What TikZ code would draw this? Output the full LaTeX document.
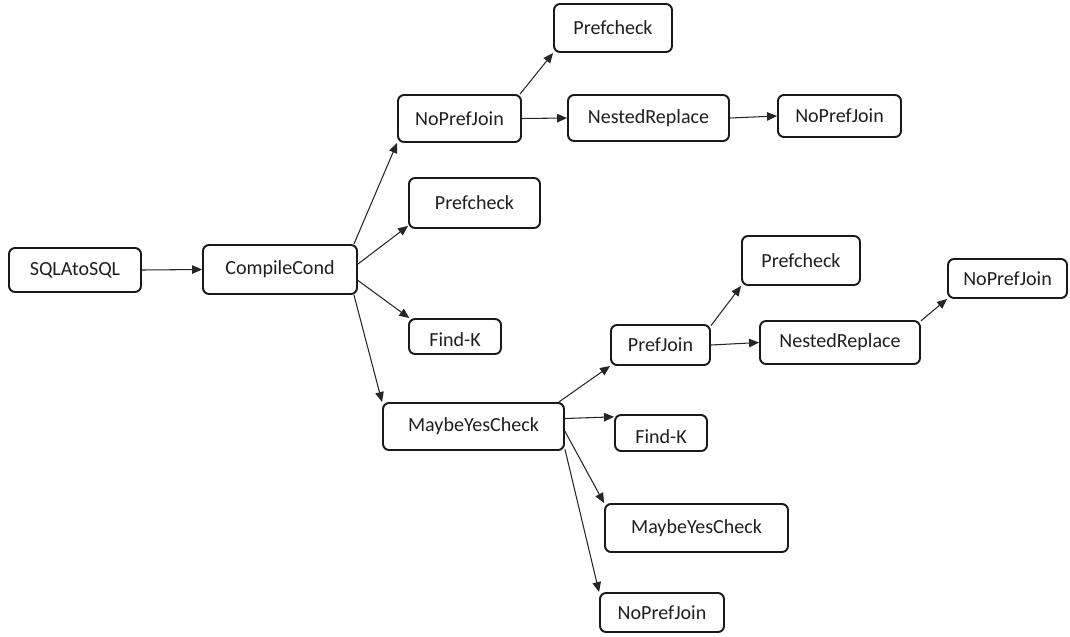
\documentclass[tikz,border=0pt]{standalone}
\usepackage{fontspec}
\setmainfont{Carlito}
\usetikzlibrary{arrows.meta}
\begin{document}
\begin{tikzpicture}[x=0.02cm, y=-0.02cm,
  box/.style={draw=black!90, line width=1.1pt, rounded corners=0.12cm,
    inner sep=0pt, fill=white, text=black!88,
    font=\fontsize{11.4}{13.7}\selectfont},
  lowtext/.style={text height=0.4cm, text depth=0pt},
  link/.style={draw=black!85, line width=0.6pt,
    -{Triangle[length=0.2cm, width=0.17cm]}}]
\useasboundingbox (0,0) rectangle (1070,636);

% first level
\node[box, minimum width=2.64cm, minimum height=0.88cm] (s2s) at (75,270) {SQLAtoSQL};
\node[box, minimum width=3.08cm, minimum height=0.98cm] (cc) at (280,269.5) {CompileCond};

% children of CompileCond
\node[box, minimum width=2.46cm, minimum height=0.94cm] (npjA) at (459.5,118.5) {NoPrefJoin};
\node[box, minimum width=2.62cm, minimum height=1.00cm] (pcB) at (474.5,203) {Prefcheck};
\node[box, lowtext, minimum width=1.84cm, minimum height=0.70cm] (fkA) at (455,336.5) {Find-K};
\node[box, minimum width=3.62cm, minimum height=0.94cm] (mycA) at (473.5,426.5) {MaybeYesCheck};

% upper branch
\node[box, minimum width=2.36cm, minimum height=0.96cm] (pcA) at (613,28) {Prefcheck};
\node[box, minimum width=3.22cm, minimum height=0.92cm] (nrA) at (648.5,118) {NestedReplace};
\node[box, minimum width=2.46cm, minimum height=0.84cm] (npjB) at (839.5,116) {NoPrefJoin};

% lower branch
\node[box, minimum width=1.98cm, minimum height=0.80cm] (pj) at (660.5,345) {PrefJoin};
\node[box, lowtext, minimum width=1.84cm, minimum height=0.72cm] (fkB) at (661,433) {Find-K};
\node[box, minimum width=3.66cm, minimum height=0.96cm] (mycB) at (696.5,528) {MaybeYesCheck};
\node[box, minimum width=2.48cm, minimum height=0.78cm] (npjD) at (662,612.5) {NoPrefJoin};
\node[box, minimum width=2.36cm, minimum height=0.98cm] (pcC) at (801,260.5) {Prefcheck};
\node[box, minimum width=3.20cm, minimum height=0.86cm] (nrB) at (840,342.5) {NestedReplace};
\node[box, minimum width=2.38cm, minimum height=0.78cm] (npjC) at (1007.5,278.5) {NoPrefJoin};

% connectors
\draw[link] (s2s.east) -- (cc.west);
\draw[link] (cc.19) -- (npjA.south west);
\draw[link] (cc.4) -- (pcB.199);
\draw[link] (cc.-8.5) -- (fkA.158);
\draw[link] (cc.-19) -- (mycA.north west);

\draw[link] (npjA.22) -- (pcA.south west);
\draw[link] (npjA.east) -- (nrA.west);
\draw[link] (nrA.east) -- (npjB.west);

\draw[link] (mycA.16) -- (pj.south west);
\draw[link] (mycA.5) -- (fkB.161);
\draw[link] (mycA.-3.5) -- (mycB.north west);
\draw[link] (mycA.-14.5) -- (npjD.north west);

\draw[link] (pj.21) -- (pcC.south west);
\draw[link] (pj.east) -- (nrB.west);
\draw[link] (nrB.15) -- (npjC.south west);
\end{tikzpicture}
\end{document}
